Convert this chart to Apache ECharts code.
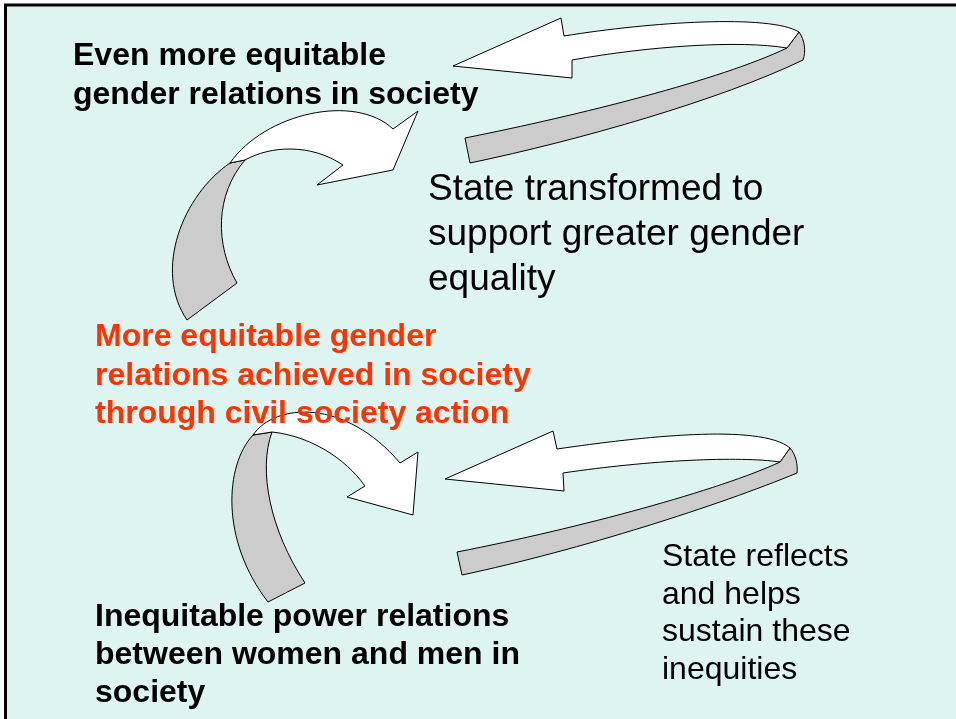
<!DOCTYPE html>
<html>
<head>
<meta charset="utf-8">
<script src="https://cdn.jsdelivr.net/npm/echarts@6/dist/echarts.min.js"></script>
<style>html,body{margin:0;padding:0;background:#fff;}</style>
</head>
<body>
<div id="main" style="width:956px;height:719px;"></div>
<script type="text/javascript">

// diagram text blocks
var blockText = [
    'Even more equitable\ngender relations in society',
    'State transformed to\nsupport greater gender\nequality',
    'More equitable gender\nrelations achieved in society\nthrough civil society action',
    'Inequitable power relations\nbetween women and men in\nsociety',
    'State reflects\nand helps\nsustain these\ninequities'
];
var blockBold = [true, false, true, true, false];
var blockColor = ['#000000', '#000000', '#FF3300', '#000000', '#000000'];

// ribbon arrows, outlines in diagram units (x right, y down)
var ribbonNames = ['top loop back', 'top loop front', 'upper arc back', 'upper arc front',
                   'lower arc back', 'lower arc front', 'bottom loop back', 'bottom loop front'];
var ribbonOutline = [
    [['M', 799, 32], ['C', 805, 40, 806, 52, 803, 60], ['C', 720, 100, 580, 140, 470, 163],
     ['L', 465, 138], ['C', 580, 115, 720, 80, 787, 48], ['Z']],
    [['M', 453, 66], ['L', 561, 18], ['L', 564, 36], ['C', 650, 22, 770, 14, 799, 32],
     ['L', 787, 48], ['C', 740, 40, 650, 46, 572, 60], ['L', 572, 78], ['Z']],
    [['M', 230, 163], ['C', 183, 195, 153, 270, 187, 320], ['L', 237, 283],
     ['C', 215, 245, 215, 195, 245, 160], ['Z']],
    [['M', 230, 163], ['C', 265, 113, 355, 93, 393, 129], ['L', 418, 111], ['L', 393, 170],
     ['L', 317, 185], ['L', 343, 165], ['C', 310, 143, 270, 146, 245, 160], ['Z']],
    [['M', 253, 435], ['C', 225, 465, 220, 540, 268, 602], ['L', 305, 583],
     ['C', 270, 530, 258, 470, 272, 432], ['Z']],
    [['M', 253, 435], ['C', 275, 403, 345, 398, 400, 463], ['L', 418, 452], ['L', 413, 515],
     ['L', 347, 497], ['L', 365, 486], ['C', 345, 458, 310, 436, 272, 432], ['Z']],
    [['M', 790, 448], ['C', 796, 455, 798, 465, 797, 473], ['C', 720, 505, 580, 550, 462, 575],
     ['L', 457, 552], ['C', 580, 528, 720, 490, 780, 462], ['Z']],
    [['M', 445, 479], ['L', 553, 431], ['L', 557, 449], ['C', 640, 437, 760, 423, 790, 448],
     ['L', 780, 462], ['C', 740, 456, 650, 460, 563, 473], ['L', 564, 491], ['Z']]
];
var ribbonFill = ['#CCCCCC', '#FFFFFF', '#CCCCCC', '#FFFFFF', '#CCCCCC', '#FFFFFF', '#CCCCCC', '#FFFFFF'];

// where each text block sits (left, top of first line box) and its type size
var blockPos = [[73, 37], [428, 167], [95, 318], [95, 598], [662, 538]];
var blockSize = [32, 37, 32, 32, 32];
var blockLine = [39, 45, 38.5, 38, 37.8];

var myChart = echarts.init(document.getElementById('main'));

function outlineToPath(cmds, api) {
    return cmds.map(function (c) {
        var s = c[0];
        for (var i = 1; i < c.length; i += 2) {
            var p = api.coord([c[i], c[i + 1]]);
            s += ' ' + p[0].toFixed(1) + ' ' + p[1].toFixed(1);
        }
        return s;
    }).join(' ');
}

myChart.setOption({
    animation: false,
    grid: {left: 0, right: 0, top: 0, bottom: 0},
    xAxis: {type: 'value', min: 0, max: 956, show: false},
    yAxis: {type: 'value', min: 0, max: 719, inverse: true, show: false},
    graphic: [{
        type: 'rect',
        z: -10,
        shape: {x: 5.5, y: 5, width: 960, height: 730},
        style: {fill: '#DDF4F0', stroke: '#000', lineWidth: 3}
    }],
    series: [
        {
            type: 'custom',
            name: 'ribbons',
            clip: false,
            z: 2,
            data: ribbonNames.map(function (n, i) { return [i, 0]; }),
            renderItem: function (params, api) {
                var i = params.dataIndex;
                return {
                    type: 'path',
                    shape: {pathData: outlineToPath(ribbonOutline[i], api)},
                    style: {fill: ribbonFill[i], stroke: '#000', lineWidth: 1}
                };
            }
        },
        {
            type: 'custom',
            name: 'labels',
            clip: false,
            z: 5,
            data: blockText.map(function (t, i) { return [i, 0]; }),
            renderItem: function (params, api) {
                var i = params.dataIndex;
                var p = api.coord(blockPos[i]);
                return {
                    type: 'text',
                    x: p[0],
                    y: p[1],
                    style: {
                        text: blockText[i],
                        fill: blockColor[i],
                        fontFamily: 'Liberation Sans, Arial, sans-serif',
                        fontSize: blockSize[i],
                        fontWeight: blockBold[i] ? 'bold' : 'normal',
                        lineHeight: blockLine[i],
                        align: 'left',
                        verticalAlign: 'top'
                    }
                };
            }
        }
    ]
});

</script>
</body>
</html>
